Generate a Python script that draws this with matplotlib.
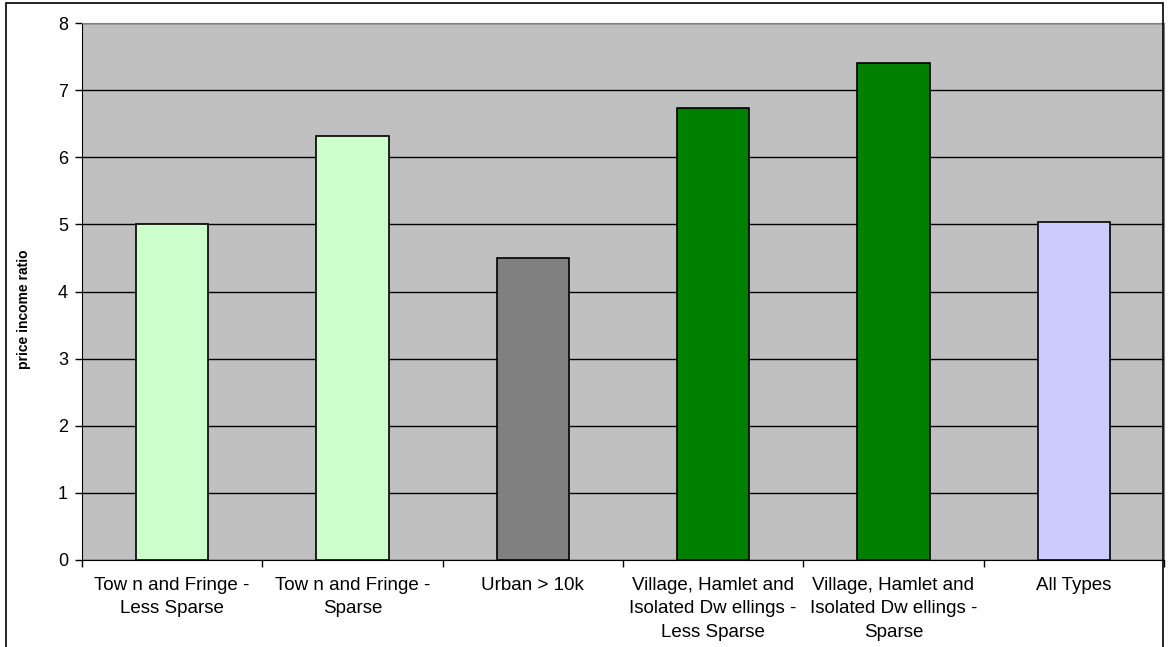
import matplotlib.pyplot as plt
from matplotlib.patches import Rectangle

categories = ["Tow n and Fringe -\nLess Sparse", "Tow n and Fringe -\nSparse", "Urban > 10k",
              "Village, Hamlet and\nIsolated Dw ellings -\nLess Sparse",
              "Village, Hamlet and\nIsolated Dw ellings -\nSparse", "All Types"]
values = [5.01, 6.31, 4.50, 6.73, 7.41, 5.04]
colors = ["#CCFFCC", "#CCFFCC", "#808080", "#008000", "#008000", "#CCCCFF"]

plt.rcParams['font.family'] = ['Liberation Sans', 'DejaVu Sans']

fig = plt.figure(figsize=(11.75, 6.47), dpi=100)
ax = fig.add_axes([82 / 1175, 1 - 560 / 647, (1164 - 82) / 1175, (560 - 23) / 647])
ax.set_facecolor("#C0C0C0")

x = range(len(categories))
ax.bar(x, values, width=0.4, color=colors, edgecolor="black", linewidth=1.2, zorder=3)

ax.set_xlim(-0.5, len(categories) - 0.5)
ax.set_ylim(0, 8)
ax.set_yticks(range(0, 9))
ax.yaxis.grid(True, color="black", linewidth=1.0, zorder=0)
ax.set_axisbelow(True)

ax.set_xticks(list(x))
ax.set_xticklabels(categories, fontsize=13.5, linespacing=1.5, va="top")
ax.set_xticks([i - 0.5 for i in range(len(categories) + 1)], minor=True)
ax.tick_params(axis="x", which="major", length=0, pad=12)
ax.tick_params(axis="x", which="minor", length=5, width=1, color="black")
ax.tick_params(axis="y", length=5, width=1, labelsize=13, pad=5)

ax.set_ylabel("price income ratio", fontsize=10, fontweight="bold")
ax.yaxis.set_label_coords(-0.047, 0.467)

ax.spines["left"].set_color("black")
ax.spines["bottom"].set_color("black")
ax.spines["top"].set_color("#808080")
ax.spines["right"].set_color("#808080")

# outer chart border
fig.patches.append(Rectangle((6 / 1175, -0.05), (1163 - 6) / 1175, 1.05 - 3 / 647,
                             transform=fig.transFigure, fill=False, edgecolor="black", linewidth=1.2))

fig.savefig("out.png", dpi=100)
